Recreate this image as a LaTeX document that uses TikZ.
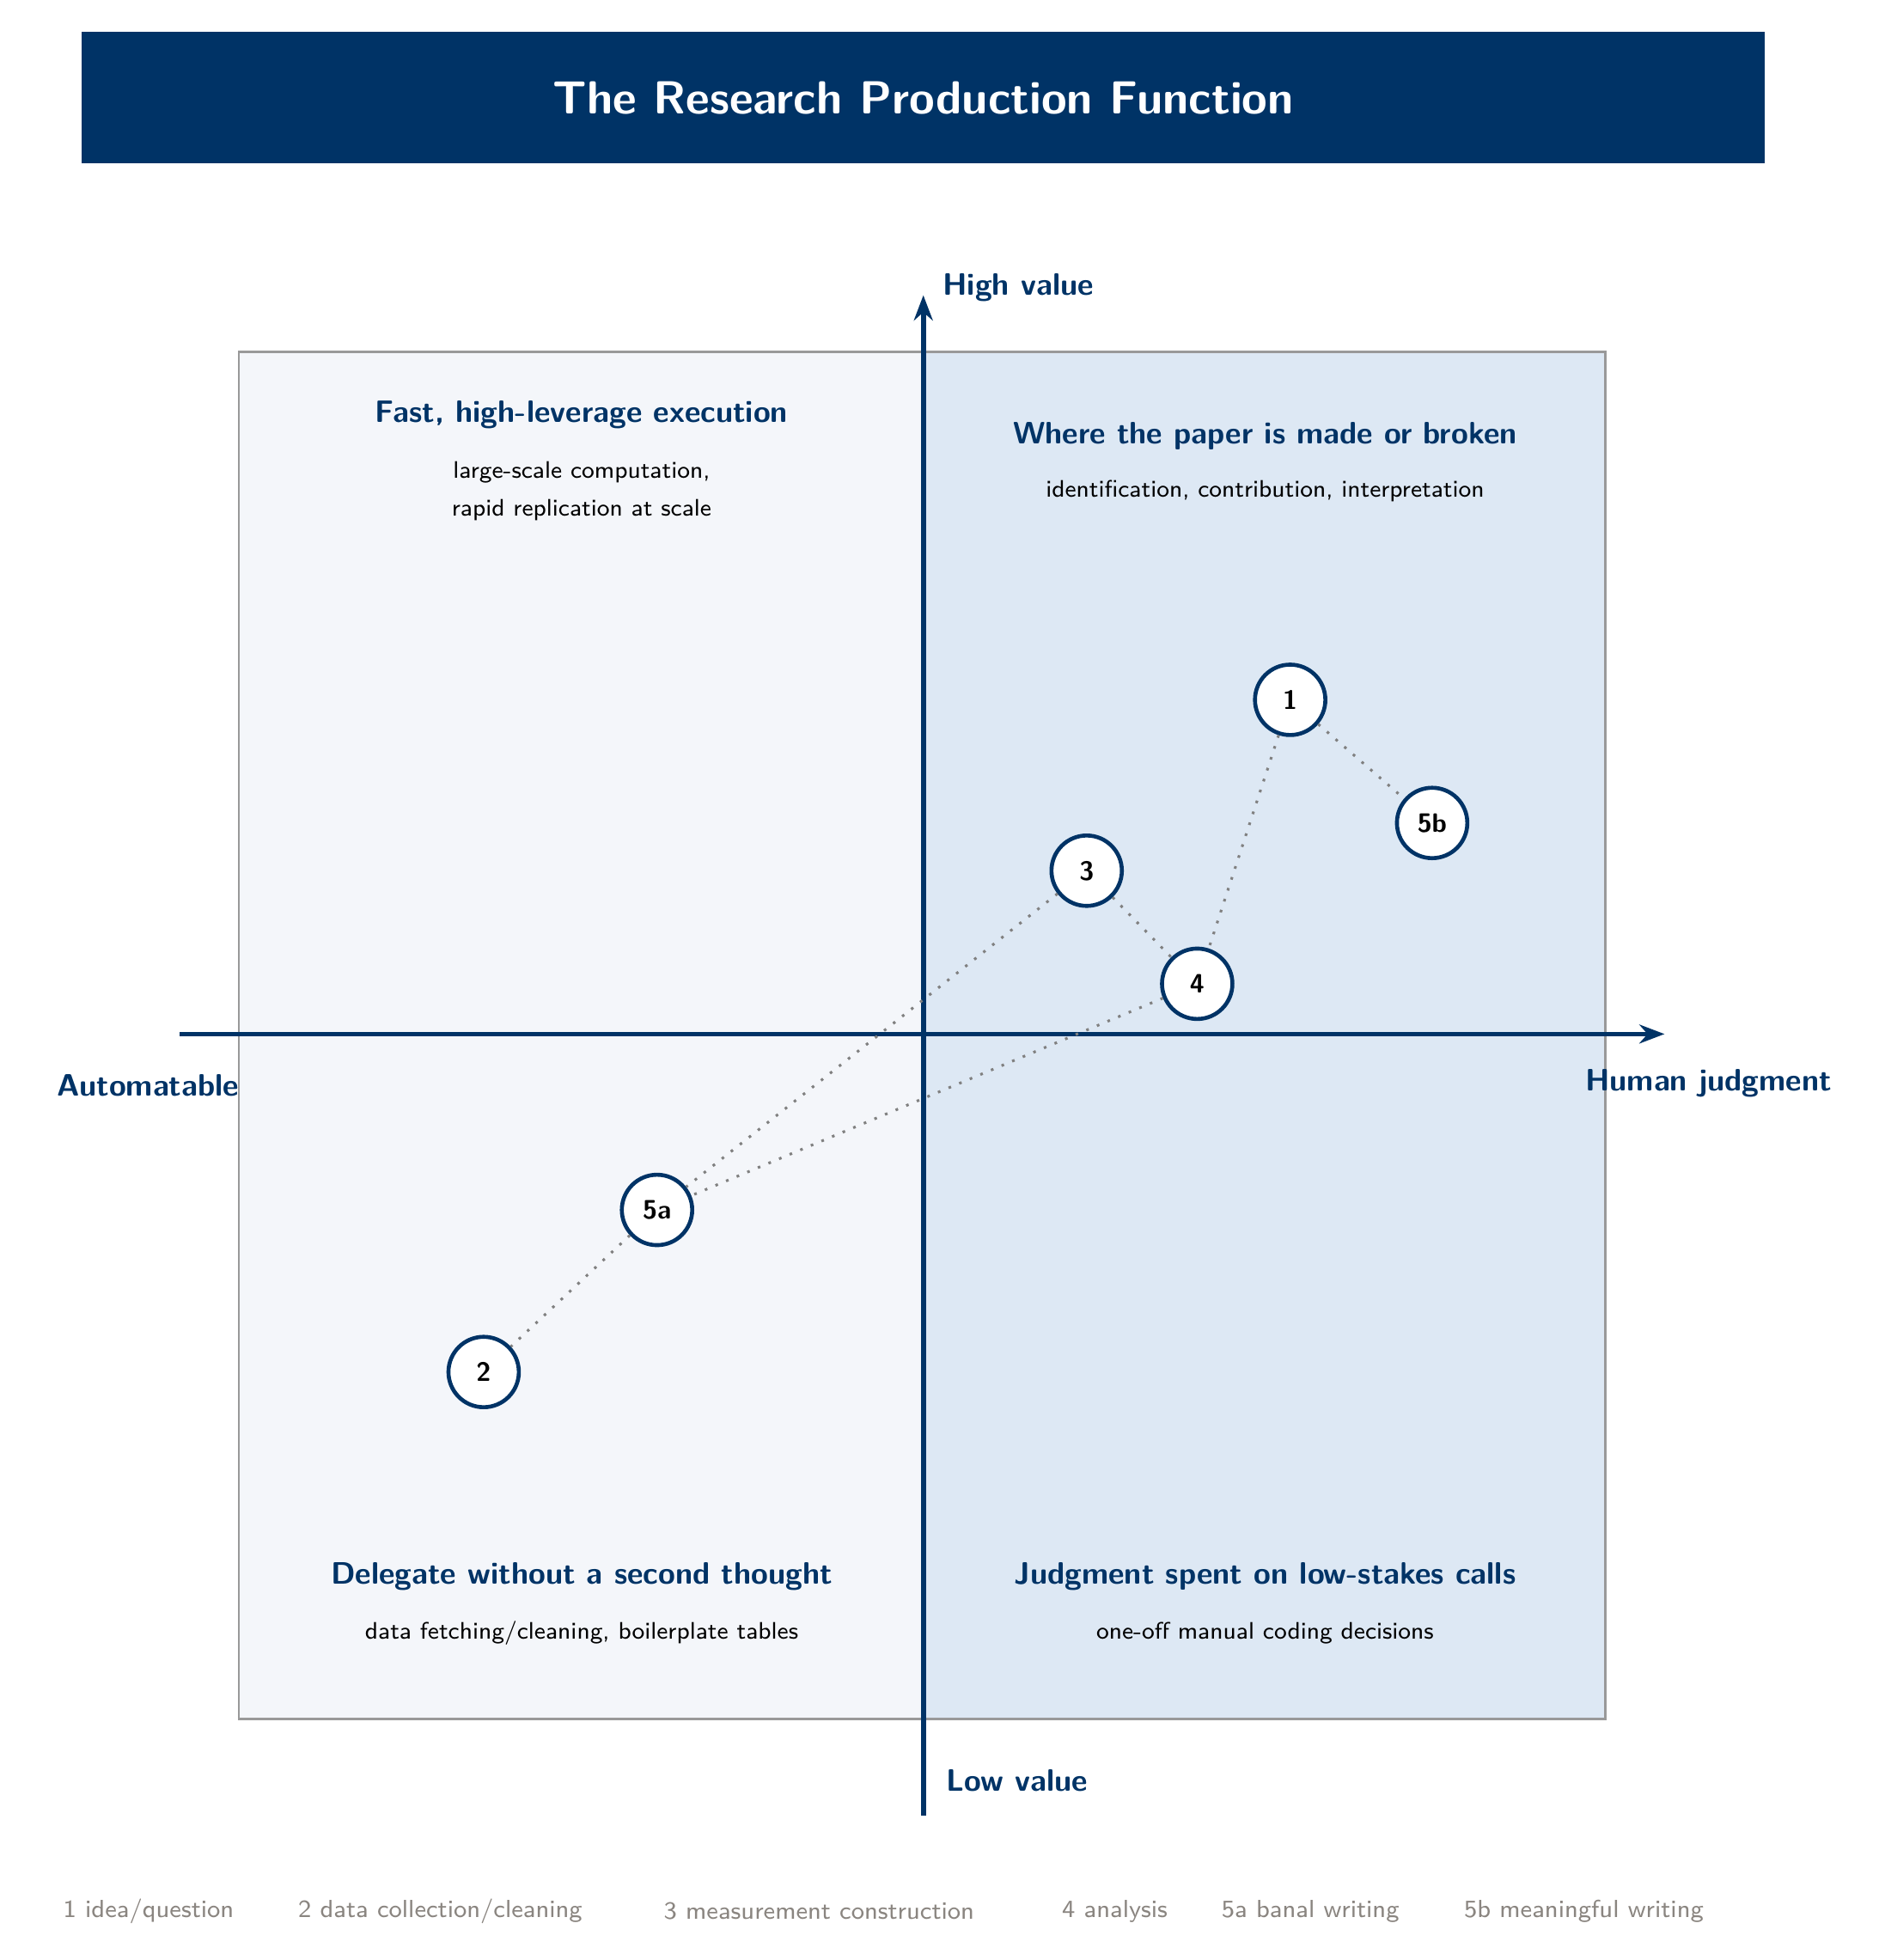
\documentclass[tikz,border=0pt]{standalone}
\usetikzlibrary{arrows.meta}
\definecolor{navy}{HTML}{003366}
\definecolor{paleL}{HTML}{F4F6FA}
\definecolor{paleR}{HTML}{DDE8F4}
\definecolor{legendgray}{HTML}{8A8580}
\begin{document}
\begin{tikzpicture}[x=0.01cm, y=-0.01cm, font=\sffamily,
    stage/.style = {draw=navy, circle, line width=0.9pt, minimum size=0.56cm, inner sep=0pt, fill=white, font=\sffamily\bfseries\fontsize{6}{7}\selectfont},
    link/.style = {gray, dotted, line width=0.6pt},
    head/.style = {navy, font=\sffamily\bfseries\fontsize{7}{8}\selectfont},
    body/.style = {font=\sffamily\fontsize{5.4}{8.6}\selectfont, align=center},
    axlabel/.style = {navy, font=\sffamily\bfseries\fontsize{7}{8}\selectfont},
    legend/.style = {legendgray, font=\sffamily\fontsize{5.6}{7}\selectfont, anchor=west}]
    \useasboundingbox (0,0) rectangle (1500,1560);
    % title
    \fill[navy] (65,25) rectangle (1405,130);
    \node[white, font=\sffamily\bfseries\fontsize{10.5}{12}\selectfont] (title) at (735,78) {The Research Production Function};
    % quadrants
    \fill[paleL] (190,280) rectangle (735,1368);
    \fill[paleR] (735,280) rectangle (1278,1368);
    \draw[gray!80, line width=0.5pt] (190,280) rectangle (1278,1368);
    % axes
    \draw[navy, line width=1.1pt, -{Stealth[length=0.2cm]}] (143,823) -- (1325,823);
    \draw[navy, line width=1.1pt, -{Stealth[length=0.2cm]}] (735,1445) -- (735,235);
    \node[axlabel, anchor=west] (hi) at (738,229) {High value};
    \node[axlabel, anchor=west] (lo) at (741,1417) {Low value};
    \node[axlabel] (auto) at (118,864) {Automatable};
    \node[axlabel] (human) at (1360,862) {Human judgment};
    % quadrant texts
    \node[head] (tlh) at (463,330) {Fast, high-leverage execution};
    \node[body] (tlb) at (463,391) {large-scale computation,\\rapid replication at scale};
    \node[head] (trh) at (1007,347) {Where the paper is made or broken};
    \node[body] (trb) at (1007,391) {identification, contribution, interpretation};
    \node[head] (blh) at (463,1255) {Delegate without a second thought};
    \node[body] (blb) at (463,1300) {data fetching/cleaning, boilerplate tables};
    \node[head] (brh) at (1007,1255) {Judgment spent on low-stakes calls};
    \node[body] (brb) at (1007,1300) {one-off manual coding decisions};
    % stages
    \node[stage] (s1) at (1027,557) {1};
    \node[stage] (s5b) at (1140,655) {5b};
    \node[stage] (s3) at (865,693) {3};
    \node[stage] (s4) at (953,783) {4};
    \node[stage] (s5a) at (523,963) {5a};
    \node[stage] (s2) at (385,1092) {2};
    \begin{scope}[on background layer/.style={}]
    \end{scope}
    \draw[link] (s1) -- (s5b);
    \draw[link] (s1) -- (s4);
    \draw[link] (s3) -- (s4);
    \draw[link] (s3) -- (s5a);
    \draw[link] (s4) -- (s5a);
    \draw[link] (s5a) -- (s2);
    % legend
    \node[legend] (l1) at (38,1521) {1 idea/question};
    \node[legend] (l2) at (225,1521) {2 data collection/cleaning};
    \node[legend] (l3) at (516,1521) {3 measurement construction};
    \node[legend] (l4) at (833,1521) {4 analysis};
    \node[legend] (l5a) at (960,1521) {5a banal writing};
    \node[legend] (l5b) at (1153,1521) {5b meaningful writing};
\end{tikzpicture}
\end{document}
